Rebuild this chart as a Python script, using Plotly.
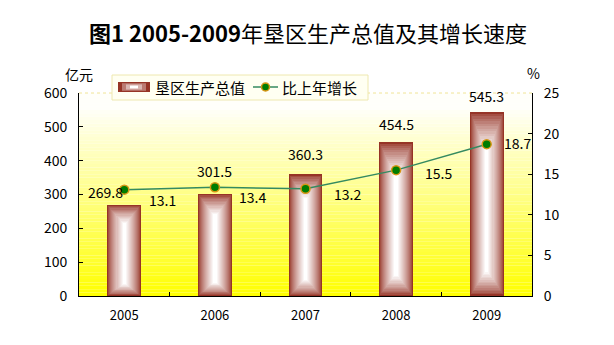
import plotly.graph_objects as go

# Output values of the reclamation area, 2005-2009
years = ["2005", "2006", "2007", "2008", "2009"]
output_value = [269.8, 301.5, 360.3, 454.5, 545.3]   # 亿元
growth_rate = [13.1, 13.4, 13.2, 15.5, 18.7]         # % over previous year

left_ticks = [0, 100, 200, 300, 400, 500, 600]
right_ticks = [0, 5, 10, 15, 20, 25]

FONT = "Noto Sans CJK SC"
W, H = 614, 345
ML, MR, MT, MB = 79, 82, 93, 49
PW, PH = W - ML - MR, H - MT - MB


def px(x):
    return (x - ML) / PW


def py(y):
    return (H - MB - y) / PH


def mix(c1, c2, t):
    return "rgb(%d,%d,%d)" % tuple(round(a + (b - a) * t) for a, b in zip(c1, c2))


BROWN = (150, 52, 38)
WHITE = (255, 255, 255)

fig = go.Figure()

# Bars: nested layers shading from brown edges to a white core
BAR_W = 0.375
N = 16
for k in range(N):
    t = k / (N - 1)
    shade = t ** 0.75
    base = [v * 0.13 * t for v in output_value]
    top = [v * (1 - 0.2 * t) for v in output_value]
    fig.add_trace(go.Bar(
        x=years, y=[a - b for a, b in zip(top, base)], base=base,
        width=BAR_W * (1 - 0.9 * t),
        marker=dict(color=mix(BROWN, WHITE, shade), line=dict(width=0)),
        showlegend=False, hoverinfo="skip", yaxis="y",
    ))

# Growth-rate line on the right axis
fig.add_trace(go.Scatter(
    x=years, y=growth_rate, yaxis="y2", mode="lines+markers",
    line=dict(color="rgb(52,138,96)", width=1.5),
    marker=dict(size=9, color="rgb(0,125,0)", line=dict(color="rgb(215,150,20)", width=1.5)),
    showlegend=False, hoverinfo="skip",
))

annotations = []
# value labels above bars (x given as category index)
bar_xshift = [-19, 0, 0, 0, 0]
bar_yshift = [1, 11, 8, 6, 4]
for i, v in enumerate(output_value):
    annotations.append(dict(
        x=i, y=v, xref="x", yref="y", text=f"{v:.1f}", showarrow=False,
        xanchor="center", yanchor="bottom", xshift=bar_xshift[i], yshift=bar_yshift[i],
        font=dict(family=FONT, size=14, color="black"),
    ))
# growth labels beside the markers
line_xshift = [38, 38, 42, 42, 31]
line_yshift = [-10, -10, -5, -3, 1]
for i, g in enumerate(growth_rate):
    annotations.append(dict(
        x=i, y=g, xref="x", yref="y2", text=f"{g:.1f}", showarrow=False,
        xanchor="center", yanchor="middle",
        xshift=line_xshift[i], yshift=line_yshift[i],
        font=dict(family=FONT, size=14, color="black"),
    ))


def paper_text(x, y, text, size, xanchor="center"):
    return dict(x=px(x), y=py(y), xref="paper", yref="paper", showarrow=False,
                xanchor=xanchor, yanchor="middle", text=text,
                font=dict(family=FONT, size=size, color="black"))


# title and axis units
annotations.append(paper_text(308, 32, "<b>图1 2005-2009</b>年垦区生产总值及其增长速度", 22))
annotations.append(paper_text(79, 74, "亿元", 14))
annotations.append(paper_text(533, 73, "%", 14))
# legend text
annotations.append(paper_text(153, 87, "垦区生产总值", 15, "left"))
annotations.append(paper_text(280, 87, "比上年增长", 15, "left"))

shapes = []
# plot background: white at the top fading to yellow at the bottom
STEPS = 60
for i in range(STEPS):
    f = (i + 0.5) / STEPS
    shapes.append(dict(
        type="rect", xref="paper", yref="paper", x0=0, x1=1,
        y0=i / STEPS, y1=(i + 1) / STEPS, layer="below", line=dict(width=0),
        fillcolor=mix((255, 255, 0), (255, 255, 250), min(1.0, f * 1.08)),
    ))
shapes.append(dict(type="line", xref="paper", yref="paper", x0=0, x1=1, y0=1, y1=1,
                   line=dict(color="rgb(240,228,150)", width=1, dash="dot")))

# legend box
shapes.append(dict(type="rect", xref="paper", yref="paper",
                   x0=px(112), x1=px(368), y0=py(100), y1=py(75),
                   fillcolor="rgb(255,255,242)", line=dict(color="rgb(238,232,175)", width=1)))
# legend bar swatch
for k, t in enumerate([0.0, 0.35, 0.65, 1.0]):
    shapes.append(dict(type="rect", xref="paper", yref="paper",
                       x0=px(118 + 4 * k), x1=px(150 - 4 * k),
                       y0=py(92 - 1.2 * k), y1=py(82 + 1.2 * k),
                       fillcolor=mix(BROWN, WHITE, t), line=dict(width=0)))
# legend line swatch
shapes.append(dict(type="line", xref="paper", yref="paper",
                   x0=px(253), x1=px(278), y0=py(87), y1=py(87),
                   line=dict(color="rgb(52,138,96)", width=1.5)))
shapes.append(dict(type="circle", xref="paper", yref="paper",
                   x0=px(261.5), x1=px(269.5), y0=py(91), y1=py(83),
                   fillcolor="rgb(0,125,0)", line=dict(color="rgb(215,150,20)", width=1.5)))

tick_font = dict(family=FONT, size=14, color="black")

fig.update_layout(
    width=W, height=H,
    margin=dict(l=ML, r=MR, t=MT, b=MB, pad=0),
    paper_bgcolor="white", plot_bgcolor="rgba(0,0,0,0)",
    barmode="overlay", bargap=0,
    showlegend=False,
    xaxis=dict(
        type="category", range=[-0.5, 4.5], showline=True, linecolor="black", linewidth=1,
        ticks="inside", ticklen=4, tickcolor="black", tickson="boundaries",
        showgrid=False, zeroline=False, mirror=False,
        tickfont=dict(family=FONT, size=13, color="black"), ticklabelstandoff=7,
    ),
    yaxis=dict(
        range=[0, 600], tickvals=left_ticks, showline=True, linecolor="black", linewidth=1,
        ticks="inside", ticklen=4, tickcolor="black", showgrid=False, zeroline=False,
        tickfont=tick_font, ticklabelstandoff=8,
    ),
    yaxis2=dict(
        range=[0, 25], tickvals=right_ticks, overlaying="y", side="right",
        showline=True, linecolor="black", linewidth=1,
        ticks="inside", ticklen=4, tickcolor="black", showgrid=False, zeroline=False,
        tickfont=tick_font, ticklabelstandoff=8,
    ),
    annotations=annotations,
    shapes=shapes,
)

fig.write_html("out.html")
